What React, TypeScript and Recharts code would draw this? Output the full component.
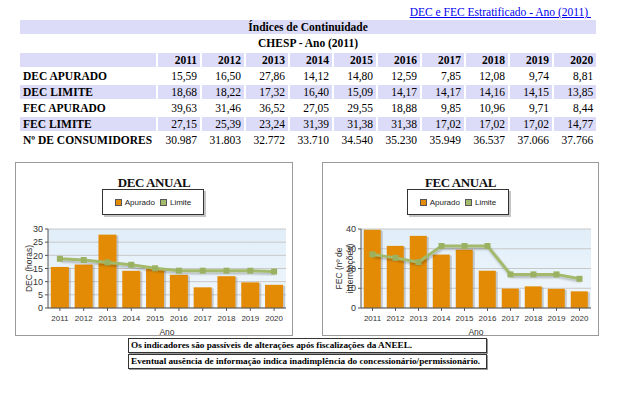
import React from 'react';
import { ComposedChart, Bar, Line, XAxis, YAxis, CartesianGrid, Legend } from 'recharts';

const years = ['2011', '2012', '2013', '2014', '2015', '2016', '2017', '2018', '2019', '2020'];
const decApurado = [15.59, 16.5, 27.86, 14.12, 14.8, 12.59, 7.85, 12.08, 9.74, 8.81];
const decLimite = [18.68, 18.22, 17.32, 16.4, 15.09, 14.17, 14.17, 14.16, 14.15, 13.85];
const fecApurado = [39.63, 31.46, 36.52, 27.05, 29.55, 18.88, 9.85, 10.96, 9.71, 8.44];
const fecLimite = [27.15, 25.39, 23.24, 31.39, 31.38, 31.38, 17.02, 17.02, 17.02, 14.77];
const consumidores = [30987, 31803, 32772, 33710, 34540, 35230, 35949, 36537, 37066, 37766];
const decTicks = [0, 5, 10, 15, 20, 25, 30];
const fecTicks = [0, 10, 20, 30, 40];

const serif = '"Liberation Serif", "Times New Roman", serif';
const sans = '"Liberation Sans", Arial, sans-serif';
const lavender = '#dcdcf8';
const barColor = '#e38b05';
const lineColor = '#a3b96c';

const fmt = (v: number) => v.toFixed(2).replace('.', ',');
const fmtInt = (v: number) => String(v).replace(/\B(?=(\d{3})+(?!\d))/g, '.');

const tableRows = [
  { label: 'DEC APURADO', values: decApurado.map(fmt), shaded: false },
  { label: 'DEC LIMITE', values: decLimite.map(fmt), shaded: true },
  { label: 'FEC APURADO', values: fecApurado.map(fmt), shaded: false },
  { label: 'FEC LIMITE', values: fecLimite.map(fmt), shaded: true },
  { label: 'Nº DE CONSUMIDORES', values: consumidores.map(fmtInt), shaded: false },
];

const cell: React.CSSProperties = {
  height: 14,
  padding: '0 3px',
  boxSizing: 'border-box',
  fontSize: 11.5,
  lineHeight: '14px',
  whiteSpace: 'nowrap',
};

const ShadowBar = (props: any) => {
  const { x, y, width, height, fill } = props;
  if (!height || height <= 0) return null;
  return (
    <g>
      <rect x={x + 2} y={y + 1} width={width} height={height - 1} fill="#777" opacity={0.35} />
      <rect x={x} y={y} width={width} height={height} fill={fill} />
    </g>
  );
};

const SquareDot = (props: any) => {
  const { cx, cy, index } = props;
  return <rect key={index} x={cx - 3} y={cy - 3} width={6} height={6} fill="#9bb162" />;
};

const AxisTitle = (props: any) => {
  const { viewBox, lines, xs } = props;
  const cy = viewBox.y + viewBox.height / 2;
  return (
    <g>
      {lines.map((t: string, i: number) => (
        <text
          key={i}
          x={xs[i]}
          y={cy}
          transform={`rotate(-90 ${xs[i]} ${cy})`}
          textAnchor="middle"
          dominantBaseline="central"
          fontSize={8.5}
          fontFamily={sans}
          fill="#333"
        >
          {t}
        </text>
      ))}
    </g>
  );
};

const LegendBox = (props: any) => {
  const { payload } = props;
  return (
    <div
      style={{
        width: 102,
        height: 26,
        boxSizing: 'border-box',
        border: '1px solid #333',
        background: '#fff',
        boxShadow: '2px 2px 0 #c4c4c4',
        display: 'flex',
        alignItems: 'center',
        justifyContent: 'center',
        fontFamily: sans,
        fontSize: 8,
        color: '#222',
      }}
    >
      {(payload || []).map((p: any, i: number) => (
        <span key={i} style={{ display: 'flex', alignItems: 'center', marginLeft: i ? 5 : 0 }}>
          <span
            style={{
              width: 7,
              height: 7,
              boxSizing: 'border-box',
              border: '1px solid #555',
              background: p.color,
              marginRight: 3,
            }}
          />
          {p.value}
        </span>
      ))}
    </div>
  );
};

interface AnnualChartProps {
  id: string;
  title: string;
  apurado: number[];
  limite: number[];
  ticks: number[];
  yLabel: string[];
  labelXs: number[];
  left: number;
  width: number;
  marginLeft: number;
  yAxisWidth: number;
  marginRight: number;
  legendLeft: number;
}

const AnnualChart: React.FC<AnnualChartProps> = (p) => {
  const data = years.map((ano, i) => ({ ano, apurado: p.apurado[i], limite: p.limite[i] }));
  return (
    <div
      style={{
        position: 'absolute',
        left: p.left,
        top: 162,
        width: p.width,
        height: 174,
        background: '#fff',
      }}
    >
      <div
        style={{
          position: 'absolute',
          left: 0,
          top: 13,
          width: p.width,
          textAlign: 'center',
          fontFamily: serif,
          fontWeight: 'bold',
          fontSize: 13,
          letterSpacing: -0.4,
          lineHeight: '16px',
          color: '#111',
        }}
      >
        {p.title}
      </div>
      <div style={{ position: 'absolute', left: 0, top: 0 }}>
        <ComposedChart
          width={p.width}
          height={174}
          data={data}
          margin={{ top: 41, right: p.marginRight, bottom: 0, left: p.marginLeft }}
          barCategoryGap="12%"
        >
          <defs>
            <linearGradient id={`bg-${p.id}`} x1="0" y1="0" x2="0" y2="1">
              <stop offset="0%" stopColor="#e0eef9" />
              <stop offset="100%" stopColor="#f1f7fc" />
            </linearGradient>
            <filter id={`ls-${p.id}`} x="-10%" y="-30%" width="120%" height="160%">
              <feDropShadow dx="1" dy="2" stdDeviation="1" floodColor="#000" floodOpacity="0.25" />
            </filter>
          </defs>
          <CartesianGrid vertical={false} stroke="#c8c8c8" fill={`url(#bg-${p.id})`} />
          <Legend
            verticalAlign="top"
            align="center"
            content={<LegendBox />}
            wrapperStyle={{ left: p.legendLeft, top: 27, width: 102 }}
          />
          <XAxis
            dataKey="ano"
            interval={0}
            height={28}
            tickSize={3}
            tickMargin={4}
            tick={{ fontSize: 8, fontFamily: sans, fill: '#333' }}
            stroke="#555"
            label={{ value: 'Ano', position: 'insideBottom', offset: 1, fontSize: 8.5, fontFamily: sans, fill: '#333' }}
          />
          <YAxis
            width={p.yAxisWidth}
            domain={[0, p.ticks[p.ticks.length - 1]]}
            ticks={p.ticks}
            interval={0}
            tickSize={3}
            tick={{ fontSize: 9, fontFamily: sans, fill: '#333' }}
            stroke="#555"
            label={<AxisTitle lines={p.yLabel} xs={p.labelXs} />}
          />
          <Bar dataKey="apurado" name="Apurado" fill={barColor} shape={<ShadowBar />} isAnimationActive={false} />
          <Line
            dataKey="limite"
            name="Limite"
            stroke={lineColor}
            strokeWidth={3}
            dot={SquareDot}
            activeDot={false}
            filter={`url(#ls-${p.id})`}
            isAnimationActive={false}
          />
        </ComposedChart>
      </div>
      <div
        style={{
          position: 'absolute',
          left: 0,
          top: 0,
          width: p.width,
          height: 174,
          boxSizing: 'border-box',
          border: '1px solid #9a9a9a',
          pointerEvents: 'none',
        }}
      />
    </div>
  );
};

const noteBox: React.CSSProperties = {
  position: 'absolute',
  left: 128,
  width: 359,
  height: 15,
  boxSizing: 'border-box',
  border: '1px solid #333',
  boxShadow: '1px 1px 0 #999',
  fontFamily: serif,
  fontWeight: 'bold',
  fontSize: 9.2,
  lineHeight: '13px',
  paddingLeft: 2,
  whiteSpace: 'nowrap',
  overflow: 'hidden',
  color: '#000',
};

export default function App() {
  return (
    <div
      style={{
        position: 'absolute',
        left: 0,
        top: 0,
        width: 620,
        height: 396,
        overflow: 'hidden',
        background: '#fff',
        fontFamily: serif,
        color: '#000',
      }}
    >
      <div
        style={{
          position: 'absolute',
          right: 29,
          top: 5,
          fontSize: 11.5,
          lineHeight: '14px',
          color: '#0000ee',
          textDecoration: 'underline',
        }}
      >
        DEC e FEC Estratificado - Ano (2011)&nbsp;
      </div>

      <table
        style={{
          position: 'absolute',
          left: 18,
          top: 18,
          width: 580,
          borderCollapse: 'separate',
          borderSpacing: 2,
          tableLayout: 'fixed',
        }}
      >
        <colgroup>
          <col style={{ width: 136 }} />
          {years.map((y) => (
            <col key={y} style={{ width: 42 }} />
          ))}
        </colgroup>
        <tbody>
          <tr>
            <td colSpan={11} style={{ ...cell, background: lavender, textAlign: 'center', fontWeight: 'bold' }}>
              Índices de Continuidade
            </td>
          </tr>
          <tr>
            <td colSpan={11} style={{ ...cell, height: 15, lineHeight: '15px', textAlign: 'center', fontWeight: 'bold' }}>
              CHESP - Ano (2011)
            </td>
          </tr>
          <tr>
            <td style={{ ...cell, background: lavender }} />
            {years.map((y) => (
              <td key={y} style={{ ...cell, background: lavender, textAlign: 'right', fontWeight: 'bold' }}>
                {y}
              </td>
            ))}
          </tr>
          {tableRows.map((r) => (
            <tr key={r.label}>
              <td style={{ ...cell, background: r.shaded ? lavender : '#fff', fontWeight: 'bold' }}>{r.label}</td>
              {r.values.map((v, i) => (
                <td key={i} style={{ ...cell, background: r.shaded ? lavender : '#fff', textAlign: 'right' }}>
                  {v}
                </td>
              ))}
            </tr>
          ))}
        </tbody>
      </table>

      <AnnualChart
        id="dec"
        title="DEC ANUAL"
        apurado={decApurado}
        limite={decLimite}
        ticks={decTicks}
        yLabel={['DEC (horas)']}
        labelXs={[14]}
        left={15}
        width={278}
        marginLeft={13}
        yAxisWidth={20}
        marginRight={7}
        legendLeft={87}
      />
      <AnnualChart
        id="fec"
        title="FEC ANUAL"
        apurado={fecApurado}
        limite={fecLimite}
        ticks={fecTicks}
        yLabel={['FEC (nº de', 'interrupções)']}
        labelXs={[17, 28]}
        left={322}
        width={277}
        marginLeft={19}
        yAxisWidth={20}
        marginRight={8}
        legendLeft={85}
      />

      <div style={{ ...noteBox, top: 338 }}>
        Os indicadores são passíveis de alterações após fiscalizações da ANEEL.
      </div>
      <div style={{ ...noteBox, top: 354 }}>
        Eventual ausência de informação indica inadimplência do concessionário/permissionário.
      </div>
    </div>
  );
}
